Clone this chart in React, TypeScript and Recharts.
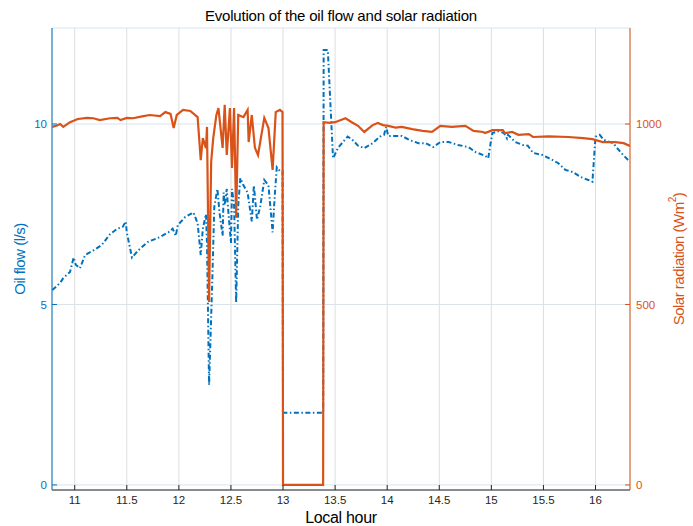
import {
  LineChart,
  Line,
  XAxis,
  YAxis,
  CartesianGrid,
  Label,
} from "recharts";

// oil flow (l/s)
const flowHours = [
  10.785, 10.86, 10.89, 10.955, 10.99, 11.01, 11.05, 11.1, 11.18, 11.26, 11.34,
  11.41, 11.46, 11.49, 11.5, 11.55, 11.61, 11.7, 11.82, 11.9, 11.94, 11.97,
  11.99, 12.06, 12.11, 12.14, 12.18, 12.21, 12.23, 12.26, 12.27, 12.29, 12.32,
  12.34, 12.37, 12.39, 12.42, 12.43, 12.44, 12.46, 12.47, 12.5, 12.51, 12.53,
  12.55, 12.57, 12.59, 12.62, 12.66, 12.68, 12.7, 12.72, 12.75, 12.78, 12.82,
  12.86, 12.9, 12.92, 12.94, 12.97, 12.995, 13.0, 13.385, 13.39, 13.43, 13.48,
  13.53, 13.62, 13.66, 13.72, 13.78, 13.86, 13.93, 13.97, 13.99, 14.01, 14.14,
  14.22, 14.3, 14.37, 14.44, 14.51, 14.59, 14.68, 14.78, 14.85, 14.94, 14.97,
  14.99, 15.01, 15.07, 15.12, 15.15, 15.16, 15.23, 15.3, 15.35, 15.4, 15.49,
  15.57, 15.64, 15.71, 15.78, 15.86, 15.93, 15.97, 16.0, 16.04, 16.08, 16.17,
  16.24, 16.33,
];
const flowValues = [
  5.4, 5.6, 5.73, 5.9, 6.3, 6.1, 6.0, 6.37, 6.5, 6.65, 6.95,
  7.1, 7.15, 7.3, 7.0, 6.3, 6.5, 6.73, 6.87, 7.0, 7.1, 6.9,
  7.2, 7.42, 7.5, 7.55, 7.25, 6.37, 7.1, 7.5, 6.7, 2.77, 5.6,
  7.7, 8.2, 7.55, 6.9, 8.1, 7.75, 8.2, 7.75, 6.7, 8.2, 7.75,
  5.05, 7.75, 8.5, 8.3, 8.1, 7.7, 7.3, 8.3, 7.35, 7.7, 8.45,
  8.3, 7.0, 8.0, 8.8, 8.7, 8.7, 2.0, 2.0, 12.05, 12.05, 9.05,
  9.35, 9.65, 9.58, 9.4, 9.33, 9.47, 9.65, 9.7, 9.92, 9.67, 9.67,
  9.55, 9.47, 9.47, 9.36, 9.5, 9.5, 9.42, 9.36, 9.22, 9.12, 9.05,
  9.42, 9.75, 9.8, 9.75, 9.6, 9.7, 9.5, 9.42, 9.4, 9.2, 9.14,
  9.03, 8.92, 8.73, 8.67, 8.53, 8.45, 8.4, 9.65, 9.7, 9.56, 9.47,
  9.22, 8.95,
];

// solar radiation (W/m2)
const solarHours = [
  10.785, 10.83, 10.86, 10.89, 10.955, 11.03, 11.12, 11.18, 11.24, 11.34, 11.41,
  11.44, 11.5, 11.56, 11.66, 11.72, 11.82, 11.87, 11.92, 11.95, 11.98, 12.04,
  12.11, 12.18, 12.21, 12.23, 12.26, 12.27, 12.29, 12.31, 12.33, 12.36, 12.38,
  12.42, 12.44, 12.46, 12.49, 12.51, 12.53, 12.55, 12.57, 12.62, 12.66, 12.67,
  12.7, 12.73, 12.76, 12.82, 12.86, 12.9, 12.93, 12.97, 12.995, 13.0, 13.385,
  13.39, 13.45, 13.5, 13.6, 13.66, 13.72, 13.78, 13.86, 13.91, 13.96, 14.01,
  14.08, 14.14, 14.24, 14.34, 14.43, 14.51, 14.62, 14.75, 14.83, 14.92, 14.94,
  15.01, 15.11, 15.13, 15.2, 15.26, 15.36, 15.4, 15.55, 15.74, 15.88, 15.97,
  16.07, 16.19, 16.27, 16.33,
];
const solarValues = [
  992, 996, 1000, 992, 1005, 1014, 1017, 1016, 1011, 1016, 1017,
  1011, 1017, 1016, 1022, 1025, 1022, 1033, 1028, 989, 1025, 1039,
  1036, 1019, 900, 961, 933, 992, 507, 895, 961, 1025, 1044,
  934, 1053, 914, 1044, 878, 1044, 740, 1025, 1019, 1039, 950,
  1025, 934, 914, 1017, 989, 873, 1033, 1039, 1033, 0, 0,
  1005, 1003, 1005, 1016, 1005, 995, 978, 997, 1003, 997, 995,
  990, 992, 986, 981, 978, 995, 992, 995, 981, 978, 975,
  983, 983, 975, 978, 970, 972, 964, 966, 964, 961, 958,
  950, 950, 947, 939,
];

const hourTicks = [11, 11.5, 12, 12.5, 13, 13.5, 14, 14.5, 15, 15.5, 16];
const flowTicks = [0, 5, 10];
const solarTicks = [0, 500, 1000];

const flowData = flowHours.map((h, i) => ({ hour: h, flow: flowValues[i] }));
const solarData = solarHours.map((h, i) => ({ hour: h, solar: solarValues[i] }));

const BLUE = "#0072BD";
const ORANGE = "#D95319";
const DARK = "#262626";
const FONT = "'Liberation Sans', Arial, sans-serif";

const SolarLabel = (props: any) => {
  const { viewBox } = props;
  const x = viewBox.x + viewBox.width - 15;
  const y = viewBox.y + viewBox.height / 2;
  return (
    <text
      x={x}
      y={y}
      transform={`rotate(-90 ${x} ${y})`}
      textAnchor="middle"
      dominantBaseline="central"
      fill={ORANGE}
      fontSize={15}
      fontFamily={FONT}
      letterSpacing={-0.5}
    >
      Solar radiation (Wm
      <tspan dy={-6} fontSize={10}>
        2
      </tspan>
      <tspan dy={6}>)</tspan>
    </text>
  );
};

export default function App() {
  return (
    <div
      style={{
        position: "absolute",
        left: 0,
        top: 0,
        width: 693,
        height: 526,
        background: "#fff",
        fontFamily: FONT,
      }}
    >
      <div
        style={{
          position: "absolute",
          left: 52,
          width: 578,
          top: 7,
          textAlign: "center",
          fontSize: 15,
          letterSpacing: -0.2,
          color: "#000",
        }}
      >
        Evolution of the oil flow and solar radiation
      </div>
      <LineChart
        width={693}
        height={526}
        margin={{ top: 28, right: 0, bottom: 0, left: 0 }}
      >
        <CartesianGrid
          xAxisId="x"
          yAxisId="left"
          horizontal={false}
          stroke="#dedede"
        />
        <CartesianGrid
          xAxisId="x"
          yAxisId="left"
          vertical={false}
          stroke="#d7e3ee"
        />
        <XAxis
          xAxisId="x"
          dataKey="hour"
          type="number"
          domain={[10.782, 16.331]}
          allowDataOverflow
          ticks={hourTicks}
          height={36}
          tickSize={-5}
          tickMargin={11}
          stroke={DARK}
          tick={{ fontSize: 11.5, fill: DARK, fontFamily: FONT }}
        >
          <Label
            value="Local hour"
            position="insideBottom"
            offset={3}
            style={{ fontSize: 16, fill: "#000", fontFamily: FONT, letterSpacing: -0.3 }}
          />
        </XAxis>
        <XAxis
          xAxisId="top"
          orientation="top"
          dataKey="hour"
          type="number"
          domain={[10.782, 16.331]}
          allowDataOverflow
          ticks={hourTicks}
          height={0}
          tickSize={-5}
          tick={false}
          stroke={DARK}
        />
        <YAxis
          yAxisId="left"
          type="number"
          domain={[-0.14, 12.66]}
          allowDataOverflow
          ticks={flowTicks}
          width={52}
          tickSize={-5}
          tickMargin={10}
          stroke={BLUE}
          tick={{ fontSize: 11.5, fill: BLUE, fontFamily: FONT }}
        >
          <Label
            value="Oil flow (l/s)"
            angle={-90}
            position="insideLeft"
            offset={20}
            style={{
              textAnchor: "middle",
              fontSize: 15,
              fill: BLUE,
              fontFamily: FONT,
              letterSpacing: -0.5,
            }}
          />
        </YAxis>
        <YAxis
          yAxisId="right"
          orientation="right"
          type="number"
          domain={[-14, 1266]}
          allowDataOverflow
          ticks={solarTicks}
          width={63}
          tickSize={-5}
          tickMargin={11}
          stroke={ORANGE}
          tick={{ fontSize: 11.5, fill: ORANGE, fontFamily: FONT }}
        >
          <Label content={<SolarLabel />} />
        </YAxis>
        <Line
          xAxisId="x"
          yAxisId="left"
          data={flowData}
          dataKey="flow"
          type="linear"
          stroke={BLUE}
          strokeWidth={2}
          strokeDasharray="5 2.5 1.5 2.5"
          dot={false}
          activeDot={false}
          isAnimationActive={false}
        />
        <Line
          xAxisId="x"
          yAxisId="right"
          data={solarData}
          dataKey="solar"
          type="linear"
          stroke={ORANGE}
          strokeWidth={2.2}
          dot={false}
          activeDot={false}
          isAnimationActive={false}
        />
      </LineChart>
    </div>
  );
}
